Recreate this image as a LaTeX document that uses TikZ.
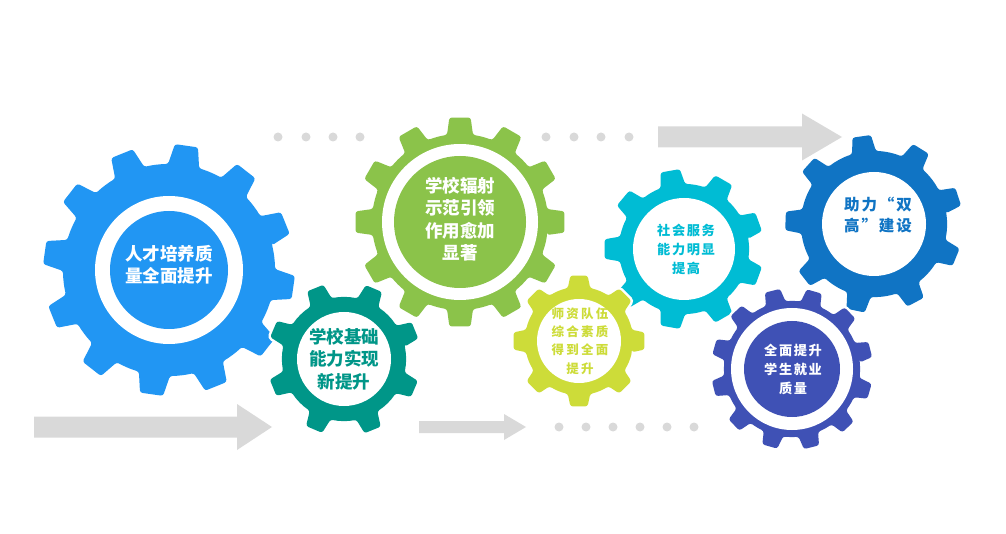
\documentclass[tikz,border=0pt]{standalone}
\usepackage{fontspec}
\newfontfamily\cjk{Noto Sans CJK SC}
\definecolor{talentblue}{RGB}{33,150,243}
\definecolor{radiategreen}{RGB}{139,195,74}
\definecolor{baseteal}{RGB}{0,150,136}
\definecolor{servicecyan}{RGB}{0,188,212}
\definecolor{teacherlime}{RGB}{205,220,57}
\definecolor{highblue}{RGB}{16,116,196}
\definecolor{employindigo}{RGB}{63,81,181}
\definecolor{arrowgray}{RGB}{217,217,217}
% centre, teeth, root radius, tip radius, first tooth angle, half width at root, half width at tip, colour
\newcommand{\gear}[8]{%
    \pgfmathsetmacro{\gstep}{360/#2}
    \path[fill=#8, preaction={draw=white, line width=5pt}, rounded corners=2.5pt, shift={(#1)}]
        ({#5-#6}:#3)
        \foreach \k in {1,...,#2}{
            -- ({#5+(\k-1)*\gstep-#7}:#4) -- ({#5+(\k-1)*\gstep+#7}:#4) -- ({#5+(\k-1)*\gstep+#6}:#3)
            arc[start angle={#5+(\k-1)*\gstep+#6}, delta angle={\gstep-2*#6}, radius=#3]
        } -- cycle;
}

\begin{document}
\begin{tikzpicture}[x=1pt, y=1pt,
    disc/.style={circle, inner sep=0pt},
    bigtext/.style={font=\cjk\bfseries\fontsize{17.5}{22.5}\selectfont, align=center},
    widetext/.style={font=\cjk\bfseries\addfontfeatures{LetterSpace=12}\fontsize{15.5}{21}\selectfont, align=center},
    smalltext/.style={font=\cjk\bfseries\addfontfeatures{LetterSpace=12}\fontsize{13.2}{19}\selectfont, align=center},
    tinytext/.style={font=\cjk\bfseries\addfontfeatures{LetterSpace=18}\fontsize{12.5}{18.3}\selectfont, align=center}]
    \useasboundingbox (0,0) rectangle (1006,533);

    \fill[arrowgray] (34,95.5) -- (237,95.5) -- (237,83) -- (272,106) -- (237,129) -- (237,116.5) -- (34,116.5) -- cycle;
    \fill[arrowgray] (419,100) -- (504,100) -- (504,93) -- (526,106) -- (504,119) -- (504,112) -- (419,112) -- cycle;
    \fill[arrowgray] (658,385.5) -- (802,385.5) -- (802,372.5) -- (842,396) -- (802,419.5) -- (802,406.5) -- (658,406.5) -- cycle;
    \foreach \x in {278,306,333,360,546,574,601,629}
        \fill[arrowgray] (\x,396) circle[radius=4.5];
    \foreach \x in {559,586,613,640,667,694}
        \fill[arrowgray] (\x,106) circle[radius=4.5];

    \gear{169,263}{12}{106}{126}{22}{8.5}{5.3}{talentblue}
    \node[disc, fill=white, minimum size=148pt] (talentring) at (169,263) {};
    \node[disc, fill=talentblue, minimum size=118pt] (talent) at (169,263) {};
    \node[bigtext, text=white] (talenttext) at ([yshift=5pt]talent.center) {人才培养质\\量全面提升};

    \gear{460,311}{12}{88}{105}{0}{8.5}{5.8}{radiategreen}
    \node[disc, fill=white, minimum size=156pt] (radiatering) at (460,311) {};
    \node[disc, fill=radiategreen, minimum size=132pt] (radiate) at (460,311) {};
    \node[bigtext, text=white] (radiatetext) at ([yshift=3pt]radiate.center) {学校辐射\\示范引领\\作用愈加\\显著};

    \gear{344,174}{8}{62}{77}{22}{10.5}{6.5}{baseteal}
    \node[disc, fill=white, minimum size=94pt] (base) at (344,174) {};
    \node[bigtext, text=baseteal] (basetext) at (base.center) {学校基础\\能力实现\\新提升};

    \gear{684,284}{9}{65}{80}{20}{11}{7}{servicecyan}
    \node[disc, fill=white, minimum size=102pt] (service) at (684,284) {};
    \node[smalltext, text=servicecyan] (servicetext) at ([xshift=2pt]service.center) {社会服务\\能力明显\\提高};

    \gear{579,192}{8}{54}{66}{0}{12}{7.5}{teacherlime}
    \node[disc, fill=white, minimum size=84pt] (teachers) at (579,192) {};
    \node[tinytext, text=teacherlime] (teacherstext) at ([xshift=1pt]teachers.center) {师资队伍\\综合素质\\得到全面\\提升};

    \gear{874,309}{9}{73}{89}{18}{9.5}{6}{highblue}
    \node[disc, fill=white, minimum size=104pt] (doublehigh) at (874,309) {};
    \node[widetext, text=highblue] (doublehightext) at ([xshift=4pt, yshift=9pt]doublehigh.center) {助力“双\\高”建设};

    \gear{792,164}{12}{68}{81}{14}{8.5}{5.5}{employindigo}
    \node[disc, fill=white, minimum size=122pt] (employring) at (792,164) {};
    \node[disc, fill=employindigo, minimum size=96pt] (employ) at (792,164) {};
    \node[smalltext, text=white] (employtext) at ([xshift=1pt]employ.center) {全面提升\\学生就业\\质量};
\end{tikzpicture}
\end{document}
